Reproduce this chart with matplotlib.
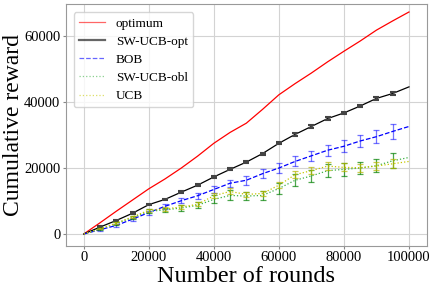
import matplotlib
matplotlib.use("Agg")
import matplotlib.pyplot as plt
import numpy as np

plt.rcParams['font.family'] = ['Liberation Serif', 'DejaVu Serif']

rounds = [0, 5000, 10000, 15000, 20000, 25000, 30000, 35000, 40000, 45000, 50000,
          55000, 60000, 65000, 70000, 75000, 80000, 85000, 90000, 95000, 100000]

optimum = [0, 3400, 6900, 10300, 13700, 16700, 20000, 23600, 27500, 30800, 33600,
           37800, 42200, 45600, 48800, 52200, 55400, 58500, 61800, 64600, 67300]

sw_ucb_opt = [0, 2100, 4100, 6300, 8900, 10500, 12700, 14800, 17300, 19600, 21800,
              24400, 27500, 30200, 32600, 35000, 36700, 38800, 41100, 42600, 44600]
sw_ucb_opt_err = [0, 200, 200, 250, 250, 250, 300, 300, 300, 300, 300,
                  300, 350, 350, 350, 350, 350, 350, 350, 400, 0]

bob = [0, 1300, 2600, 4500, 6500, 8400, 10100, 11600, 13500, 15400, 16300,
       18300, 20000, 22000, 23700, 25400, 26600, 28200, 29500, 31100, 32600]
bob_err = [0, 300, 400, 500, 600, 700, 800, 900, 1000, 1100, 1300,
           1300, 1500, 1500, 1600, 1700, 1800, 1900, 2000, 2150, 0]

sw_ucb_obl = [0, 1500, 3200, 5000, 6900, 7300, 7900, 8700, 10500, 11700, 11500,
              11700, 13800, 16300, 17600, 19200, 19600, 20000, 20700, 22200, 23200]
sw_ucb_obl_err = [0, 300, 400, 500, 600, 700, 800, 900, 1200, 1500, 1300,
                  1300, 1800, 1800, 1800, 1900, 1900, 1800, 2000, 2300, 0]

ucb = [0, 1600, 3300, 5200, 7200, 7600, 8200, 9000, 11600, 12900, 12000,
       12300, 14800, 18000, 19200, 20600, 20200, 20100, 20600, 21300, 22000]
ucb_err = [0, 200, 300, 400, 400, 500, 500, 600, 800, 900, 800,
           800, 900, 1000, 1100, 1200, 1200, 1200, 1300, 1400, 0]

fig = plt.figure(figsize=(4.36, 2.91), dpi=100)
ax = fig.add_axes([0.151, 0.155, 0.828, 0.831])

x = np.array(rounds)
idx = slice(1, 20)

def series(y, err, color, ls, label, ecolor=None, ealpha=0.5):
    y = np.array(y)
    ax.plot(x, y, color=color, linestyle=ls, linewidth=0.9, label=label)
    if err is not None:
        e = np.array(err)
        ax.errorbar(x[idx], y[idx], yerr=e[idx], fmt='none',
                    ecolor=ecolor or color, elinewidth=0.9, capsize=2.0,
                    capthick=0.9, alpha=ealpha)

series(optimum, None, 'red', '-', 'optimum')
ax.plot(x, sw_ucb_opt, color='black', linewidth=0.9, label='SW-UCB-opt')
ax.errorbar(x[idx], np.array(sw_ucb_opt)[idx], yerr=np.array(sw_ucb_opt_err)[idx],
            fmt='none', ecolor='#444444', elinewidth=1.0, capsize=2.0, capthick=1.5)
series(bob, bob_err, 'blue', '--', 'BOB', ecolor='blue', ealpha=0.55)
series(sw_ucb_obl, sw_ucb_obl_err, '#3cb043', ':', 'SW-UCB-obl', ecolor='green', ealpha=0.7)
series(ucb, ucb_err, '#c8c800', ':', 'UCB', ecolor='#b5b500', ealpha=0.7)

ax.set_xlim(-5500, 105500)
ax.set_ylim(-3600, 69700)
ax.set_xticks([0, 20000, 40000, 60000, 80000, 100000])
ax.set_yticks([0, 20000, 40000, 60000])
ax.tick_params(labelsize=10.5, length=2.5, color='#888888', pad=1.5)
ax.grid(True, color='#d3d3d3', linewidth=0.8)
ax.set_axisbelow(True)
for s in ax.spines.values():
    s.set_color('#999999')

ax.set_xlabel('Number of rounds', fontsize=17.5, labelpad=1)
ax.set_ylabel('Cumulative reward', fontsize=17)
ax.yaxis.label.set_verticalalignment('center')
ax.yaxis.set_label_coords(-0.145, 0.5)

leg = ax.legend(loc='upper left', fontsize=9.5, framealpha=0.8,
                handlelength=2.0, borderaxespad=0.6, labelspacing=0.45)
leg.get_lines()[1].set_linewidth(1.6)
for line in leg.get_lines():
    line.set_alpha(0.6)

fig.savefig('out.png', dpi=100)
